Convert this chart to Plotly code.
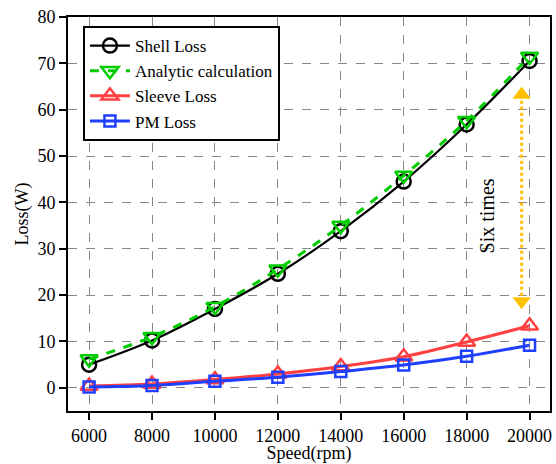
import plotly.graph_objects as go

speed = [6000, 8000, 10000, 12000, 14000, 16000, 18000, 20000]
shell_loss = [5.0, 10.2, 17.0, 24.6, 33.8, 44.5, 56.8, 70.5]
analytic = [6.2, 11.0, 17.5, 25.6, 35.0, 45.8, 57.6, 71.5]
sleeve_loss = [0.4, 0.8, 1.8, 3.0, 4.6, 6.7, 9.9, 13.4]
pm_loss = [0.2, 0.5, 1.4, 2.3, 3.5, 4.9, 6.8, 9.2]

arrow_x = [19750, 19750]
arrow_y = [63.2, 18.7]
note_x = 18650
note_y = 37
note_text = "Six times"

FONT = "Liberation Serif"

fig = go.Figure()
fig.add_trace(go.Scatter(x=speed, y=shell_loss, name="Shell Loss", mode="lines+markers",
                         line=dict(color="black", width=2.2, shape="spline"),
                         marker=dict(symbol="circle-open", size=14, color="black", line=dict(width=2.5))))
fig.add_trace(go.Scatter(x=speed, y=analytic, name="Analytic calculation", mode="lines+markers",
                         line=dict(color="#00CC00", width=3, dash="dash", shape="spline"),
                         marker=dict(symbol="triangle-down-open", size=15, color="#00CC00", line=dict(width=2.5))))
fig.add_trace(go.Scatter(x=speed, y=sleeve_loss, name="Sleeve Loss", mode="lines+markers",
                         line=dict(color="#FF4040", width=3, shape="spline"),
                         marker=dict(symbol="triangle-up-open", size=15, color="#FF4040", line=dict(width=2.5))))
fig.add_trace(go.Scatter(x=speed, y=pm_loss, name="PM Loss", mode="lines+markers",
                         line=dict(color="#1F3FFF", width=3, shape="spline"),
                         marker=dict(symbol="square-open", size=11, color="#1F3FFF", line=dict(width=2.5))))

# double-headed dotted arrow
fig.add_trace(go.Scatter(x=arrow_x, y=arrow_y, mode="lines+markers", showlegend=False, hoverinfo="skip",
                         line=dict(color="#FFC000", width=3, dash="dot"),
                         marker=dict(symbol=["triangle-up", "triangle-down"], size=16, color="#FFC000")))

fig.add_annotation(x=note_x, y=note_y, text=note_text, showarrow=False, textangle=-90,
                   font=dict(family=FONT, size=20, color="black"))

axis_common = dict(showline=True, linecolor="black", linewidth=2, mirror=True,
                   ticks="outside", ticklen=7, tickwidth=1.5, tickcolor="black",
                   showgrid=True, gridcolor="#888888", griddash="dash", gridwidth=1,
                   zeroline=False, tickfont=dict(family=FONT, size=18, color="black"),
                   title_font=dict(family=FONT, size=18, color="black"))

fig.update_xaxes(range=[5330, 20650], tickvals=speed, ticktext=[str(s) for s in speed],
                 title_text="Speed(rpm)", title_standoff=2, **axis_common)
fig.update_yaxes(range=[-5, 80], tickvals=[0, 10, 20, 30, 40, 50, 60, 70, 80],
                 title_text="Loss(W)", title_standoff=4, **axis_common)

fig.update_layout(width=556, height=464, margin=dict(l=68, r=4, t=17, b=53),
                  plot_bgcolor="white", paper_bgcolor="white",
                  font=dict(family=FONT, size=17, color="black"),
                  legend=dict(x=0.031, y=0.977, xanchor="left", yanchor="top",
                              bgcolor="white", bordercolor="black", borderwidth=2,
                              font=dict(family=FONT, size=17, color="black"),
                              tracegroupgap=0, itemwidth=40))

fig.write_html("out.html", config={"displayModeBar": False},
               post_script="document.body.style.margin='0';document.body.style.overflow='hidden';")
